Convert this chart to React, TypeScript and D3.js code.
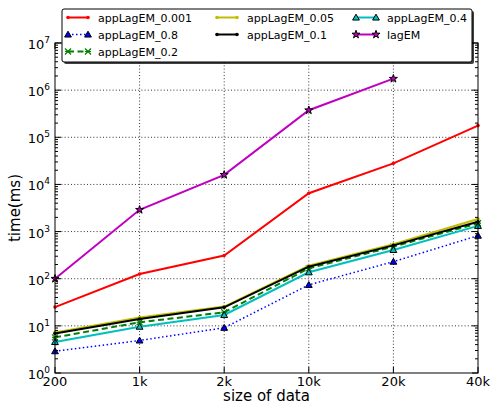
import React from "react";
import * as d3 from "d3";

const categories = ["200", "1k", "2k", "10k", "20k", "40k"];
const seriesNames = ["appLagEM_0.001", "appLagEM_0.8", "appLagEM_0.2", "appLagEM_0.05", "appLagEM_0.1", "appLagEM_0.4", "lagEM"];
const v0001 = [25, 126, 310, 6500, 28000, 177000];
const v08 = [2.9, 4.9, 9.1, 74, 230, 820];
const v02 = [5.7, 11.9, 19.4, 166, 480, 1500];
const v005 = [7.2, 15, 25.6, 190, 540, 1850];
const v01 = [6.9, 14, 24.7, 180, 510, 1620];
const v04 = [4.55, 9.6, 17, 137, 408, 1320];
const vLag = [100, 2900, 16000, 375000, 1750000];
const yTickExps = [0, 1, 2, 3, 4, 5, 6, 7];

const W = 491, H = 404;
const L = 55, R = 478, T = 43, B = 373;
const FONT = "DejaVu Sans";

type Style = { color: string; dash?: string; width: number; marker: string; mfill: string; mstroke: string; msize: number };
const styles: Style[] = [
  { color: "#ff0000", width: 2, marker: "dot", mfill: "#ff0000", mstroke: "#ff0000", msize: 1.8 },
  { color: "#0000ff", width: 1.5, dash: "1.5,2.5", marker: "tri", mfill: "#0000ff", mstroke: "#000", msize: 20 },
  { color: "#008000", width: 2, dash: "6,3.5", marker: "x", mfill: "none", mstroke: "#008000", msize: 3 },
  { color: "#bfbf00", width: 2, marker: "dot", mfill: "#bfbf00", mstroke: "#bfbf00", msize: 1.8 },
  { color: "#000000", width: 2, marker: "dot", mfill: "#000", mstroke: "#000", msize: 1.8 },
  { color: "#00bfbf", width: 2, marker: "tri", mfill: "#00bfbf", mstroke: "#000", msize: 20 },
  { color: "#bf00bf", width: 2, marker: "star", mfill: "#bf00bf", mstroke: "#000", msize: 20 },
];
const seriesValues = [v0001, v08, v02, v005, v01, v04, vLag];

function Marker({ s, x, y }: { s: Style; x: number; y: number }) {
  if (s.marker === "dot") return <circle cx={x} cy={y} r={s.msize} fill={s.mfill} stroke="none" />;
  if (s.marker === "x") {
    const r = s.msize;
    return (
      <g stroke={s.mstroke} strokeWidth={1.2}>
        <line x1={x - r} y1={y - r} x2={x + r} y2={y + r} />
        <line x1={x - r} y1={y + r} x2={x + r} y2={y - r} />
        <line x1={x - r} y1={y} x2={x + r} y2={y} />
      </g>
    );
  }
  const sym = s.marker === "tri" ? d3.symbolTriangle : d3.symbolStar;
  const p = d3.symbol().type(sym).size(s.msize)() as string;
  return <path d={p} transform={`translate(${x},${y + (s.marker === "tri" ? 0.6 : 0)})`} fill={s.mfill} stroke={s.mstroke} strokeWidth={1} />;
}

export default function App() {
  const x = d3.scalePoint<string>().domain(categories).range([L, R]);
  const y = d3.scaleLog().domain([1, 1e7]).range([B, T]);
  const minor: number[] = [];
  for (let e = 0; e < 7; e++) for (let m = 2; m <= 9; m++) minor.push(m * Math.pow(10, e));
  const line = d3.line<number>().x((_, i) => x(categories[i]) as number).y((d) => y(d));

  const legendCols = [
    { hx: 68, tx: 98, items: [0, 1, 2] },
    { hx: 217, tx: 247, items: [3, 4] },
    { hx: 356, tx: 387, items: [5, 6] },
  ];
  const rowY = [17.5, 34.5, 51.5];

  return (
    <svg width={W} height={H} style={{ position: "absolute", left: 0, top: 0, background: "#fff" }} fontFamily={FONT}>
      <rect x={0} y={0} width={W} height={H} fill="#fff" />
      {/* grid */}
      <g stroke="#000" strokeWidth={0.8} strokeDasharray="1,2.2">
        {yTickExps.slice(1, -1).map((e) => (
          <line key={"gy" + e} x1={L} x2={R} y1={y(Math.pow(10, e))} y2={y(Math.pow(10, e))} />
        ))}
        {categories.slice(1, -1).map((c) => (
          <line key={"gx" + c} x1={x(c)} x2={x(c)} y1={T} y2={B} />
        ))}
      </g>
      {/* series */}
      {seriesValues.map((vals, i) => {
        const s = styles[i];
        return (
          <g key={"s" + i}>
            <path d={line(vals) as string} fill="none" stroke={s.color} strokeWidth={s.width} strokeDasharray={s.dash} />
            {vals.map((v, j) => (
              <Marker key={j} s={s} x={x(categories[j]) as number} y={y(v)} />
            ))}
          </g>
        );
      })}
      {/* axes frame */}
      <rect x={L} y={T} width={R - L} height={B - T} fill="none" stroke="#000" strokeWidth={1} />
      <g stroke="#000" strokeWidth={1}>
        {yTickExps.map((e) => {
          const yy = y(Math.pow(10, e));
          return (
            <g key={"yt" + e}>
              <line x1={L} x2={L + 6} y1={yy} y2={yy} />
              <line x1={R} x2={R - 6} y1={yy} y2={yy} />
            </g>
          );
        })}
        {minor.map((m) => {
          const yy = y(m);
          return (
            <g key={"ym" + m}>
              <line x1={L} x2={L + 3} y1={yy} y2={yy} />
              <line x1={R} x2={R - 3} y1={yy} y2={yy} />
            </g>
          );
        })}
        {categories.map((c) => (
          <g key={"xt" + c}>
            <line x1={x(c)} x2={x(c)} y1={B} y2={B - 6} />
            <line x1={x(c)} x2={x(c)} y1={T} y2={T + 6} />
          </g>
        ))}
      </g>
      {/* tick labels */}
      {categories.map((c) => (
        <text key={"xl" + c} x={x(c)} y={386} textAnchor="middle" fontSize={13} fill="#000">
          {c}
        </text>
      ))}
      {yTickExps.map((e) => (
        <text key={"yl" + e} x={50} y={y(Math.pow(10, e)) + 6} textAnchor="end" fontSize={13} fill="#000">
          10
          <tspan fontSize={9} dy={-6}>{e}</tspan>
        </text>
      ))}
      <text x={(L + R) / 2} y={401} textAnchor="middle" fontSize={15} fill="#000">
        size of data
      </text>
      <text transform={`translate(20,${(T + B) / 2}) rotate(-90)`} textAnchor="middle" fontSize={15} fill="#000">
        time(ms)
      </text>
      {/* legend */}
      <rect x={64} y={11} width={410} height={53} fill="#000" opacity={0.75} rx={2} />
      <rect x={62} y={9} width={410} height={53} fill="#fff" stroke="#000" strokeWidth={1} rx={2} />
      {legendCols.map((col) =>
        col.items.map((si, ri) => {
          const s = styles[si];
          const yy = rowY[ri];
          return (
            <g key={"lg" + si}>
              <line x1={col.hx} x2={col.hx + 20} y1={yy} y2={yy} stroke={s.color} strokeWidth={s.width} strokeDasharray={s.dash} />
              <Marker s={s} x={col.hx} y={yy} />
              <Marker s={s} x={col.hx + 20} y={yy} />
              <text x={col.tx} y={yy + 4} fontSize={11} fill="#000">
                {seriesNames[si]}
              </text>
            </g>
          );
        })
      )}
    </svg>
  );
}
